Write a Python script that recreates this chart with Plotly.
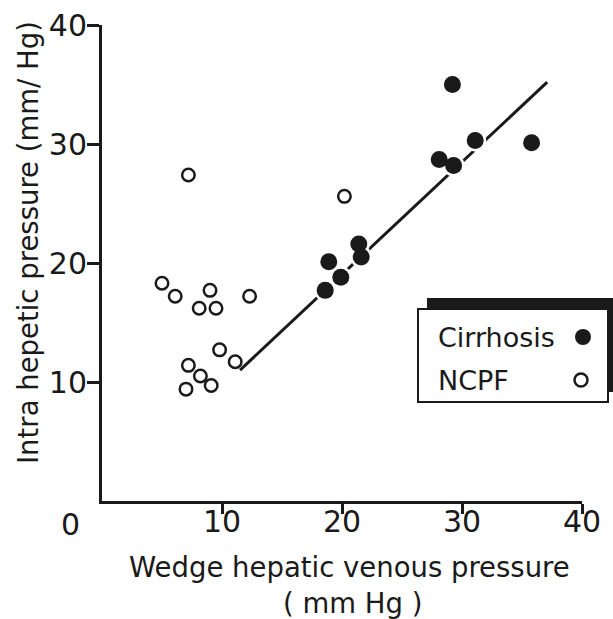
import plotly.graph_objects as go

# Wedge hepatic venous pressure (x) vs intra hepatic pressure (y), mm Hg
cirrhosis_wedge = [29.2, 35.8, 31.1, 28.1, 29.3, 21.4, 21.6, 18.9, 19.9, 18.6]
cirrhosis_intra = [35.0, 30.1, 30.3, 28.7, 28.2, 21.6, 20.5, 20.1, 18.8, 17.7]

ncpf_wedge = [7.2, 20.2, 5.0, 6.1, 9.0, 8.1, 9.5, 12.3, 9.8, 11.1, 7.2, 8.2, 9.1, 7.0]
ncpf_intra = [27.4, 25.6, 18.3, 17.2, 17.7, 16.2, 16.2, 17.2, 12.7, 11.7, 11.4, 10.5, 9.7, 9.4]

# regression line through the cirrhosis group
fit_wedge = [11.5, 37.1]
fit_intra = [11.0, 35.2]

tick_vals = [10, 20, 30, 40]
tick_text = ["10", "20", "30", "40"]

W, H = 613, 619
ML, MR, MT, MB = 102, 31, 25, 118
PW, PH = W - ML - MR, H - MT - MB

FONT = "DejaVu Sans"
INK = "#1a1a1a"


def px_x(px):
    return (px - ML) / PW


def px_y(py):
    return (H - MB - py) / PH


fig = go.Figure()

fig.add_trace(go.Scatter(
    x=fit_wedge, y=fit_intra, mode="lines",
    line=dict(color=INK, width=3), showlegend=False, hoverinfo="skip"))

# white halo so the line breaks around the filled dots
fig.add_trace(go.Scatter(
    x=cirrhosis_wedge, y=cirrhosis_intra, mode="markers",
    marker=dict(size=22, color="white"), showlegend=False, hoverinfo="skip"))

fig.add_trace(go.Scatter(
    x=cirrhosis_wedge, y=cirrhosis_intra, mode="markers", name="Cirrhosis",
    marker=dict(size=17, color=INK), showlegend=False))

fig.add_trace(go.Scatter(
    x=ncpf_wedge, y=ncpf_intra, mode="markers", name="NCPF",
    marker=dict(symbol="circle-open", size=12.5, color=INK, line=dict(width=2.5, color=INK)),
    showlegend=False))

axis_common = dict(
    range=[0, 40], showgrid=False, zeroline=False, automargin=False,
    showline=True, linecolor=INK, linewidth=3,
    ticks="outside", tickcolor=INK, tickwidth=2.5,
    tickvals=tick_vals, ticktext=tick_text,
    tickfont=dict(family=FONT, size=30, color=INK),
)


def circle(cx, cy, d, filled):
    r = d / 2
    return dict(type="circle", xref="paper", yref="paper",
                x0=px_x(cx - r), x1=px_x(cx + r), y0=px_y(cy + r), y1=px_y(cy - r),
                fillcolor=INK if filled else "white",
                line=dict(color=INK, width=0 if filled else 2.5), layer="above")


shapes = [
    # legend drop shadow
    dict(type="rect", xref="paper", yref="paper",
         x0=px_x(427), x1=px_x(625), y0=px_y(392), y1=px_y(298),
         fillcolor=INK, line=dict(width=0), layer="above"),
    # legend box
    dict(type="rect", xref="paper", yref="paper",
         x0=px_x(418), x1=px_x(608), y0=px_y(402), y1=px_y(309),
         fillcolor="white", line=dict(color=INK, width=2), layer="above"),
    # legend keys
    circle(583, 337, 16, True),
    circle(581, 380, 13, False),
]


def label(text, cx, cy, size, anchor="center", angle=0):
    return dict(text=text, x=px_x(cx), y=px_y(cy), xref="paper", yref="paper",
                xanchor=anchor, yanchor="middle", showarrow=False, textangle=angle,
                font=dict(family=FONT, size=size, color=INK))


annotations = [
    label("0", 70, 524, 30),
    label("Wedge hepatic venous pressure", 349, 567, 27.5),
    label("( mm Hg )", 352, 603, 27.5),
    label("Intra hepetic pressure (mm/ Hg)", 28, 243, 27.5, angle=-90),
    label("Cirrhosis", 436, 337, 27, anchor="left"),
    label("NCPF", 436, 380, 27, anchor="left"),
]

fig.update_layout(
    width=W, height=H,
    margin=dict(l=ML, r=MR, t=MT, b=MB),
    paper_bgcolor="white", plot_bgcolor="white",
    xaxis=dict(**axis_common, ticklen=10, ticklabelstandoff=-18),
    yaxis=dict(**axis_common, ticklen=12, ticklabelstandoff=-6),
    shapes=shapes,
    annotations=annotations,
    showlegend=False,
)

fig.write_html("out.html")
